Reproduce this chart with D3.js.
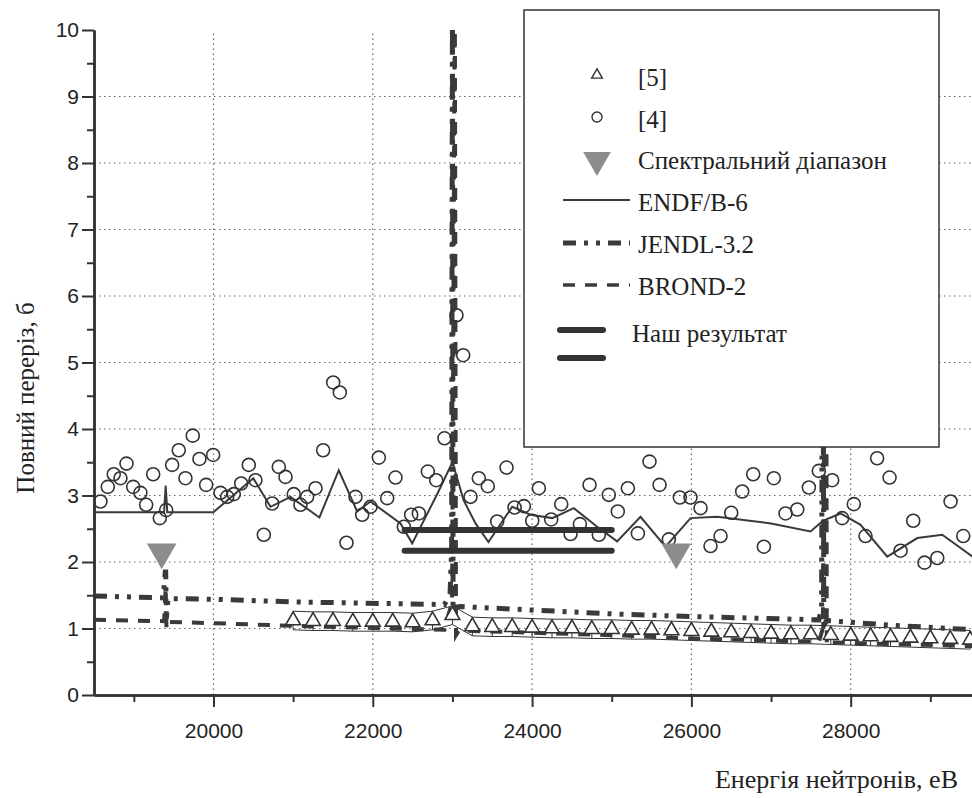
<!DOCTYPE html>
<html>
<head>
<meta charset="utf-8">
<script src="https://cdn.jsdelivr.net/npm/d3@7"></script>
<style>
  body { margin: 0; background: white; }
  .serif { font-family: "Liberation Serif", "Tinos", "DejaVu Serif", serif; }
</style>
</head>
<body>
<script>
// ENDF/B-6 evaluated total cross section
const endfE = [18500, 19380, 19400, 19420, 20000, 20500, 20716, 20967, 21330, 21573, 21804, 21971, 22348, 22495, 22800, 23000, 23140, 23290, 23452, 23750, 23980, 24253, 24524, 24817, 25068, 25361, 25675, 25989, 26324, 27000, 27496, 27650, 27873, 28124, 28459, 28836, 29150, 29532, 29700];
const endfS = [2.75, 2.75, 3.15, 2.75, 2.75, 3.26, 2.83, 2.98, 2.67, 3.38, 2.76, 2.91, 2.58, 2.28, 3.0, 3.5, 2.93, 2.58, 2.30, 2.83, 2.71, 2.66, 2.81, 2.53, 2.31, 2.68, 2.23, 2.66, 2.68, 2.58, 2.46, 2.62, 2.73, 2.56, 2.08, 2.36, 2.41, 2.08, 1.95];

// JENDL-3.2
const jendlE = [18500, 19370, 19395, 19400, 19408, 19430, 20000, 21000, 22900, 22970, 22990, 23000, 23008, 23030, 23100, 25000, 26000, 27600, 27635, 27650, 27662, 27700, 28500, 29700];
const jendlS = [1.49, 1.46, 1.85, 1.85, 1.15, 1.45, 1.44, 1.40, 1.36, 1.52, 2.2, 10.5, 1.25, 1.32, 1.33, 1.22, 1.18, 1.13, 1.3, 8.5, 1.05, 1.12, 1.05, 0.97];

// BROND-2
const brondE = [18500, 19380, 19400, 19410, 19430, 20000, 21000, 22900, 22995, 23030, 23045, 23080, 25000, 26000, 27600, 27650, 27690, 27700, 27730, 29700];
const brondS = [1.13, 1.11, 1.62, 1.0, 1.10, 1.08, 1.04, 0.98, 1.4, 10.5, 0.9, 0.97, 0.90, 0.85, 0.80, 1.0, 8.5, 0.75, 0.79, 0.73];

// experimental data [5] (triangles) with error
const ref5E = [21000, 21250, 21500, 21750, 22000, 22250, 22500, 22750, 23000, 23250, 23500, 23750, 24000, 24250, 24500, 24750, 25000, 25250, 25500, 25750, 26000, 26250, 26500, 26750, 27000, 27250, 27500, 27750, 28000, 28250, 28500, 28750, 29000, 29250, 29500];
const ref5S = [1.12, 1.11, 1.11, 1.10, 1.10, 1.10, 1.09, 1.12, 1.20, 1.03, 1.02, 1.02, 1.01, 1.00, 1.00, 0.99, 0.99, 0.98, 0.98, 0.97, 0.96, 0.95, 0.94, 0.93, 0.92, 0.91, 0.91, 0.90, 0.89, 0.88, 0.87, 0.86, 0.85, 0.84, 0.83];
const ref5Err = 0.14;

// experimental data [4] (circles)
const ref4E = [18581, 18673, 18748, 18832, 18908, 18992, 19083, 19155, 19243, 19326, 19406, 19481, 19564, 19648, 19740, 19824, 19908, 19996, 20088, 20172, 20255, 20348, 20443, 20527, 20632, 20737, 20820, 20904, 21008, 21092, 21176, 21281, 21377, 21503, 21586, 21670, 21783, 21867, 21971, 22076, 22181, 22285, 22390, 22482, 22578, 22691, 22796, 22900, 23051, 23135, 23227, 23331, 23444, 23562, 23679, 23780, 23897, 24002, 24085, 24240, 24366, 24483, 24600, 24721, 24838, 24963, 25076, 25202, 25328, 25474, 25600, 25717, 25855, 25989, 26115, 26240, 26366, 26500, 26638, 26776, 26910, 27035, 27182, 27329, 27475, 27600, 27768, 27893, 28039, 28186, 28332, 28488, 28626, 28785, 28927, 29087, 29254, 29413];
const ref4S = [2.91, 3.13, 3.32, 3.26, 3.48, 3.13, 3.04, 2.86, 3.32, 2.66, 2.78, 3.46, 3.68, 3.26, 3.90, 3.55, 3.16, 3.61, 3.04, 2.98, 3.02, 3.18, 3.46, 3.23, 2.41, 2.88, 3.43, 3.28, 3.02, 2.86, 2.98, 3.11, 3.68, 4.70, 4.55, 2.29, 2.98, 2.71, 2.83, 3.57, 2.96, 3.27, 2.53, 2.71, 2.73, 3.36, 3.23, 3.86, 5.71, 5.11, 2.98, 3.26, 3.14, 2.61, 3.42, 2.82, 2.84, 2.62, 3.11, 2.64, 2.87, 2.42, 2.57, 3.16, 2.41, 3.01, 2.76, 3.11, 2.43, 3.51, 3.16, 2.34, 2.97, 2.97, 2.81, 2.24, 2.39, 2.74, 3.06, 3.32, 2.23, 3.26, 2.73, 2.79, 3.12, 3.37, 3.23, 2.66, 2.87, 2.39, 3.56, 3.27, 2.17, 2.62, 1.99, 2.06, 2.91, 2.39];

// spectral range markers
const spectrE = [19350, 25810];
const spectrS = [2.15, 2.15];

// our result: two horizontal levels
const oursFrom = [22400, 22400];
const oursTo = [25000, 25000];
const oursS = [2.48, 2.17];

const xMajor = [20000, 22000, 24000, 26000, 28000];
const xMinor = [19000, 21000, 23000, 25000, 27000, 29000];
const yMajor = [0, 1, 2, 3, 4, 5, 6, 7, 8, 9, 10];
const yMinor = [0.5, 1.5, 2.5, 3.5, 4.5, 5.5, 6.5, 7.5, 8.5, 9.5];

const legendLabels = ["[5]", "[4]", "Спектральний діапазон", "ENDF/B-6", "JENDL-3.2", "BROND-2", "Наш результат"];

const ink = "#333";

let svg = d3.select('body')
    .append('svg')
    .attr('width', 972)
    .attr('height', 798);

let xScale = d3.scaleLinear().domain([18500, 30000]).range([94, 1010]);
let yScale = d3.scaleLinear().domain([0, 10]).range([695, 30]);

svg.append('clipPath')
    .attr('id', 'plot')
    .append('rect')
    .attr('x', xScale(18500))
    .attr('y', yScale(10))
    .attr('width', 1000)
    .attr('height', yScale(0) - yScale(10));

// dotted grid
function makeGrid() {
    let g = svg.append('g')
        .attr('stroke', '#666')
        .attr('stroke-width', 1.2)
        .attr('stroke-dasharray', '1.5,3.5');
    g.selectAll('.hgrid')
        .data(yMajor.filter(d => d > 0 && d < 10))
        .enter().append('line')
        .attr('x1', xScale(18500))
        .attr('x2', 972)
        .attr('y1', d => yScale(d))
        .attr('y2', d => yScale(d));
    g.selectAll('.vgrid')
        .data(xMajor)
        .enter().append('line')
        .attr('x1', d => xScale(d))
        .attr('x2', d => xScale(d))
        .attr('y1', yScale(0))
        .attr('y2', yScale(10));
}

function makeAxes() {
    let xAxis = d3.axisBottom(xScale).tickValues(xMajor).tickSize(12).tickSizeOuter(0).tickPadding(16).tickFormat(d3.format('d'));
    let xAxisMinor = d3.axisBottom(xScale).tickValues(xMinor).tickSize(7).tickSizeOuter(0).tickFormat('');
    let yAxis = d3.axisLeft(yScale).tickValues(yMajor).tickSize(12).tickSizeOuter(0).tickPadding(3).tickFormat(d3.format('d'));
    let yAxisMinor = d3.axisLeft(yScale).tickValues(yMinor).tickSize(7).tickSizeOuter(0).tickFormat('');

    [
        [xAxis, 'translate(0,' + yScale(0) + ')'],
        [xAxisMinor, 'translate(0,' + yScale(0) + ')'],
        [yAxis, 'translate(' + xScale(18500) + ',0)'],
        [yAxisMinor, 'translate(' + xScale(18500) + ',0)']
    ].forEach(([ax, tr]) => {
        let g = svg.append('g')
            .attr('transform', tr)
            .call(ax)
            .attr('font-family', 'Liberation Sans, Arial, sans-serif')
            .attr('font-size', 21);
        g.select('.domain').attr('stroke', ink).attr('stroke-width', 2.5);
        g.selectAll('.tick line').attr('stroke', ink).attr('stroke-width', 2);
        g.selectAll('.tick text').attr('fill', '#222');
    });

    svg.append('text')
        .attr('class', 'serif')
        .attr('transform', 'translate(34,398) rotate(-90)')
        .attr('text-anchor', 'middle')
        .attr('font-size', 25)
        .attr('fill', '#222')
        .text('Повний переріз, б');

    svg.append('text')
        .attr('class', 'serif')
        .attr('x', 958)
        .attr('y', 788)
        .attr('text-anchor', 'end')
        .attr('font-size', 26)
        .attr('fill', '#222')
        .text('Енергія нейтронів, еВ');
}

function plotData() {
    let plot = svg.append('g').attr('clip-path', 'url(#plot)');
    let line = d3.line().x(d => xScale(d[0])).y(d => yScale(d[1]));

    // error envelope of [5]
    plot.append('path')
        .attr('d', line(ref5E.map((e, i) => [e, ref5S[i] + ref5Err])))
        .attr('fill', 'none').attr('stroke', ink).attr('stroke-width', 1);
    plot.append('path')
        .attr('d', line(ref5E.map((e, i) => [e, ref5S[i] - ref5Err])))
        .attr('fill', 'none').attr('stroke', ink).attr('stroke-width', 1);
    plot.selectAll('.err5')
        .data(ref5E)
        .enter().append('line')
        .attr('x1', d => xScale(d))
        .attr('x2', d => xScale(d))
        .attr('y1', (d, i) => yScale(ref5S[i] - ref5Err))
        .attr('y2', (d, i) => yScale(ref5S[i]))
        .attr('stroke', ink)
        .attr('stroke-width', 1);

    plot.append('path')
        .attr('d', line(brondE.map((e, i) => [e, brondS[i]])))
        .attr('fill', 'none')
        .attr('stroke', '#3a3a3a')
        .attr('stroke-width', 4)
        .attr('stroke-dasharray', '12,10');

    plot.append('path')
        .attr('d', line(jendlE.map((e, i) => [e, jendlS[i]])))
        .attr('fill', 'none')
        .attr('stroke', '#3a3a3a')
        .attr('stroke-width', 5)
        .attr('stroke-dasharray', '13,8,4,8,4,8');

    plot.append('path')
        .attr('d', line(endfE.map((e, i) => [e, endfS[i]])))
        .attr('fill', 'none')
        .attr('stroke', '#3a3a3a')
        .attr('stroke-width', 2);

    // our result
    plot.selectAll('.ours')
        .data(oursS)
        .enter().append('line')
        .attr('x1', (d, i) => xScale(oursFrom[i]))
        .attr('x2', (d, i) => xScale(oursTo[i]))
        .attr('y1', d => yScale(d))
        .attr('y2', d => yScale(d))
        .attr('stroke', ink)
        .attr('stroke-width', 6)
        .attr('stroke-linecap', 'round');

    // [4] circles
    plot.selectAll('.ref4')
        .data(ref4E)
        .enter().append('circle')
        .attr('cx', d => xScale(d))
        .attr('cy', (d, i) => yScale(ref4S[i]))
        .attr('r', 6.5)
        .attr('fill', 'none')
        .attr('stroke', ink)
        .attr('stroke-width', 1.6);

    // [5] triangles
    let tri = d3.symbol().type(d3.symbolTriangle).size(95);
    plot.selectAll('.ref5')
        .data(ref5E)
        .enter().append('path')
        .attr('d', tri)
        .attr('transform', (d, i) => 'translate(' + xScale(d) + ',' + yScale(ref5S[i]) + ')')
        .attr('fill', 'white')
        .attr('stroke', ink)
        .attr('stroke-width', 1.6);

    // spectral range
    let bigTri = d3.symbol().type(d3.symbolTriangle).size(380);
    plot.selectAll('.spectr')
        .data(spectrE)
        .enter().append('path')
        .attr('d', bigTri)
        .attr('transform', (d, i) => 'translate(' + xScale(d) + ',' + yScale(spectrS[i]) + ') rotate(180)')
        .attr('fill', '#8c8c8c');
}

function makeLegend() {
    let lg = svg.append('g');
    lg.append('rect')
        .attr('x', 524)
        .attr('y', 10)
        .attr('width', 415)
        .attr('height', 437)
        .attr('fill', 'white')
        .attr('stroke', ink)
        .attr('stroke-width', 1.5);

    let baselines = [86, 128, 169, 211, 253, 295, 342];
    lg.selectAll('.ltext')
        .data(legendLabels)
        .enter().append('text')
        .attr('class', 'serif')
        .attr('x', (d, i) => i == 6 ? 632 : 638)
        .attr('y', (d, i) => baselines[i])
        .attr('font-size', 25)
        .attr('fill', '#222')
        .text(d => d);

    lg.append('path')
        .attr('d', d3.symbol().type(d3.symbolTriangle).size(50))
        .attr('transform', 'translate(597,75)')
        .attr('fill', 'white').attr('stroke', ink).attr('stroke-width', 1.4);
    lg.append('circle')
        .attr('cx', 597).attr('cy', 117).attr('r', 5)
        .attr('fill', 'none').attr('stroke', ink).attr('stroke-width', 1.4);
    lg.append('path')
        .attr('d', d3.symbol().type(d3.symbolTriangle).size(330))
        .attr('transform', 'translate(597,160) rotate(180)')
        .attr('fill', '#8c8c8c');

    lg.append('line').attr('x1', 563).attr('x2', 630).attr('y1', 200).attr('y2', 200)
        .attr('stroke', '#3a3a3a').attr('stroke-width', 2);
    lg.append('line').attr('x1', 563).attr('x2', 630).attr('y1', 243).attr('y2', 243)
        .attr('stroke', '#3a3a3a').attr('stroke-width', 5).attr('stroke-dasharray', '13,8,4,8,4,8');
    lg.append('line').attr('x1', 563).attr('x2', 630).attr('y1', 285).attr('y2', 285)
        .attr('stroke', '#3a3a3a').attr('stroke-width', 3.5).attr('stroke-dasharray', '12,10');

    lg.selectAll('.lours')
        .data([330, 358])
        .enter().append('line')
        .attr('x1', 560).attr('x2', 603)
        .attr('y1', d => d).attr('y2', d => d)
        .attr('stroke', ink)
        .attr('stroke-width', 6)
        .attr('stroke-linecap', 'round');
}

makeGrid();
plotData();
makeLegend();
makeAxes();
</script>
</body>
</html>
